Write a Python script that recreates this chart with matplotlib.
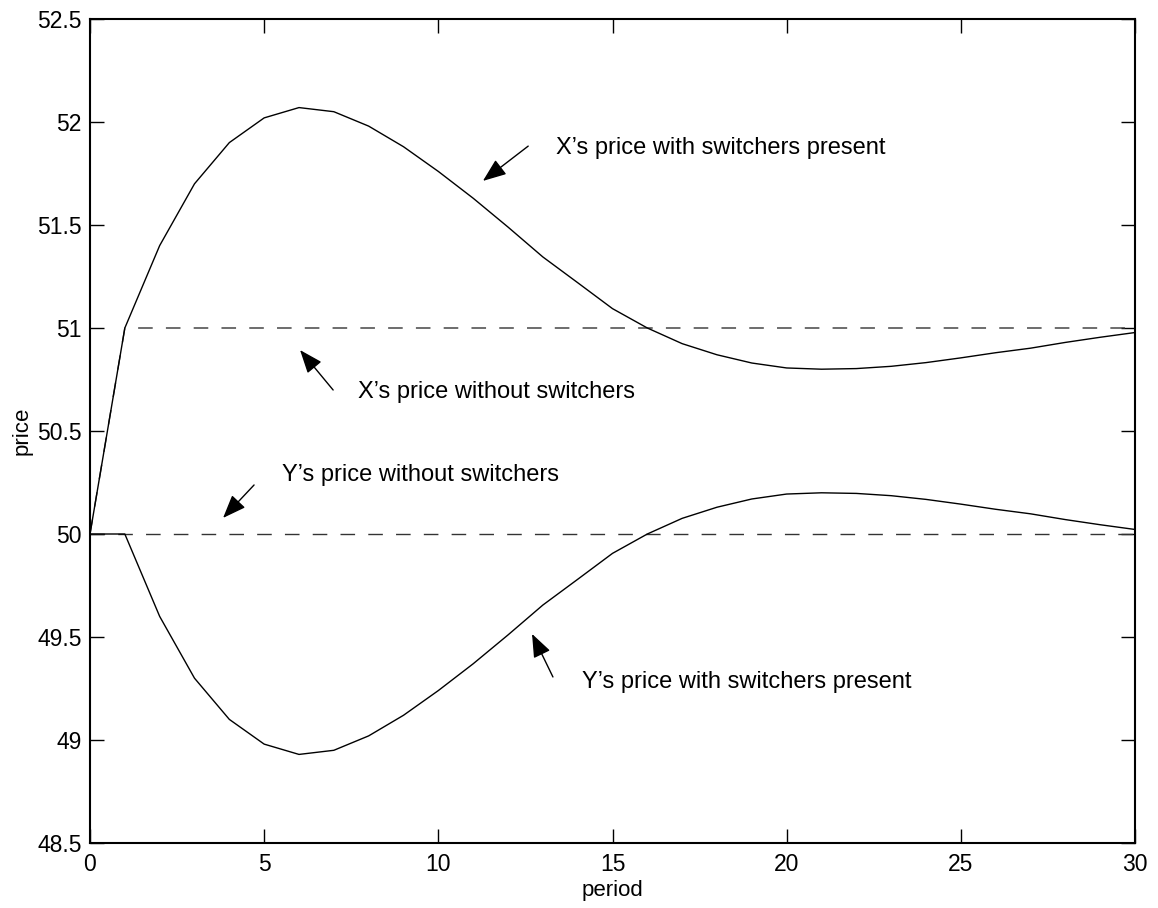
import matplotlib
matplotlib.use("Agg")
import matplotlib.pyplot as plt

plt.rcParams['font.family'] = ['Liberation Sans', 'DejaVu Sans']

period = list(range(31))
x_with = [50.0, 51.0, 51.40, 51.70, 51.90, 52.02, 52.07, 52.05, 51.98, 51.88,
          51.76, 51.63, 51.49, 51.345, 51.22, 51.094, 51.0, 50.924, 50.87, 50.83,
          50.806, 50.80, 50.803, 50.814, 50.832, 50.855, 50.88, 50.902, 50.93, 50.955, 50.978]
y_with = [50.0, 50.0, 49.60, 49.30, 49.10, 48.98, 48.93, 48.95, 49.02, 49.12,
          49.24, 49.37, 49.51, 49.655, 49.78, 49.906, 50.0, 50.076, 50.13, 50.17,
          50.194, 50.20, 50.197, 50.186, 50.168, 50.145, 50.12, 50.098, 50.07, 50.045, 50.022]
x_without = [50.0] + [51.0] * 30
y_without = [50.0] * 31

xticks = [0, 5, 10, 15, 20, 25, 30]
yticks = [48.5, 49, 49.5, 50, 50.5, 51, 51.5, 52, 52.5]
ytick_labels = ['48.5', '49', '49.5', '50', '50.5', '51', '51.5', '52', '52.5']

annotations = [
    ("X\u2019s price with switchers present", (13.38, 51.874), (12.58, 51.883), (11.28, 51.714)),
    ("X\u2019s price without switchers", (7.69, 50.689), (6.98, 50.699), (6.03, 50.893)),
    ("Y\u2019s price without switchers", (5.51, 50.286), (4.71, 50.238), (3.82, 50.078)),
    ("Y\u2019s price with switchers present", (14.13, 49.28), (13.29, 49.306), (12.69, 49.515)),
]

fig = plt.figure(figsize=(11.58, 9.08), dpi=100)
ax = fig.add_axes([90/1158, 1-843/908, (1135-90)/1158, (843-19)/908])

for yw in (x_without, y_without):
    ln, = ax.plot(period, yw, color='#333333', lw=1.0)
    ln.set_dashes((10.5, 9.5))
ax.plot(period, x_with, color='k', lw=1.0)
ax.plot(period, y_with, color='k', lw=1.0)

fs = 16.5
afs = 17
for txt, tpos, tail, head in annotations:
    ax.text(tpos[0], tpos[1], txt, fontsize=afs, ha='left', va='center')
    ax.annotate('', xy=head, xytext=tail,
                arrowprops=dict(arrowstyle='-|>,head_length=0.9,head_width=0.35',
                                mutation_scale=16, color='k', lw=1.0,
                                shrinkA=0, shrinkB=0))

ax.set_xlim(0, 30)
ax.set_ylim(48.5, 52.5)
ax.set_xticks(xticks)
ax.set_xticklabels([str(t) for t in xticks])
ax.set_yticks(yticks)
ax.set_yticklabels(ytick_labels)
ax.tick_params(direction='in', length=10, width=1, top=True, right=True,
               labelsize=fs, pad=7)
ax.tick_params(axis='y', pad=6)
for s in ax.spines.values():
    s.set_linewidth(1.5)
ax.set_xlabel('period', fontsize=16, labelpad=3)
ax.set_ylabel('price', fontsize=16, labelpad=3)

fig.savefig('out.png', dpi=100)
